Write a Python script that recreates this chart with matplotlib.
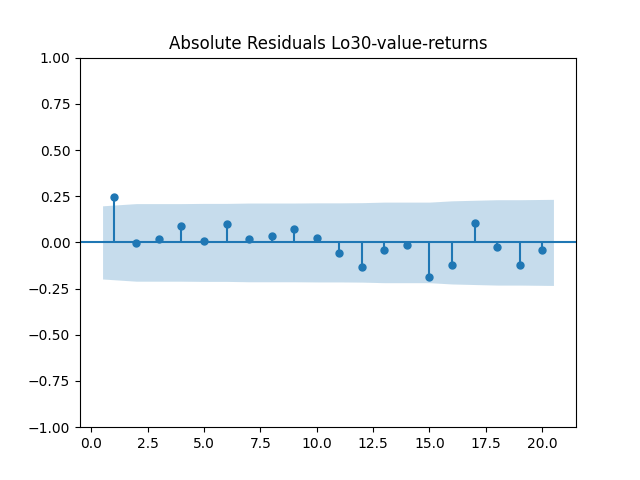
import matplotlib
matplotlib.use("Agg")
import matplotlib.pyplot as plt
import numpy as np

lags = [1, 2, 3, 4, 5, 6, 7, 8, 9, 10, 11, 12, 13, 14, 15, 16, 17, 18, 19, 20]
acf_vals = [0.247, -0.003, 0.019, 0.089, 0.008, 0.100, 0.019, 0.035, 0.073, 0.024,
            -0.057, -0.133, -0.041, -0.014, -0.187, -0.122, 0.106, -0.024, -0.122, -0.041]
band = [0.198, 0.210, 0.210, 0.210, 0.211, 0.211, 0.213, 0.213, 0.213, 0.214,
        0.214, 0.215, 0.218, 0.218, 0.218, 0.225, 0.228, 0.231, 0.231, 0.233]
title = "Absolute Residuals Lo30-value-returns"

fig, ax = plt.subplots(figsize=(6.4, 4.8), dpi=100)
x = np.array(lags, dtype=float)
y = np.array(acf_vals)
b = np.array(band)
ax.vlines(x, [0], y, color="C0")
ax.axhline(color="C0")
ax.margins(0.05)
ax.plot(x, y, marker="o", markersize=5, linestyle="None", color="C0")
xf = x.copy()
xf[0] -= 0.5
xf[-1] += 0.5
ax.fill_between(xf, -b, b, alpha=0.25, color="C0", linewidth=0)
ax.set_ylim(-1, 1)
ax.set_title(title)
fig.savefig("out.png")
